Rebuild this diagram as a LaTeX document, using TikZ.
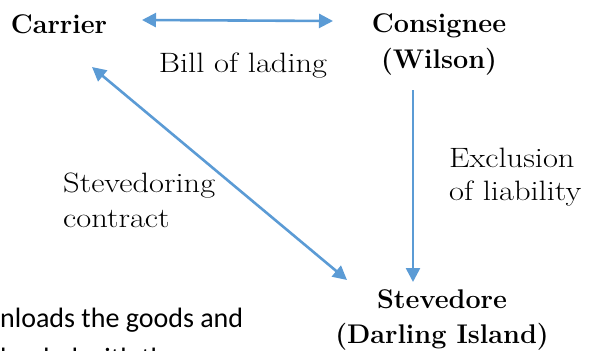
\documentclass[tikz,border=0pt]{standalone}
\usepackage{fontspec}
\newfontfamily\calib{Carlito}
\newfontfamily\lblfont{Latin Modern Roman}[FakeStretch=1.16]
\usetikzlibrary{arrows.meta}
\definecolor{arrblue}{HTML}{5B9BD5}
\tikzset{
  party/.style={font=\bfseries\fontsize{27}{35}\selectfont, align=center, inner sep=0pt},
  lbl/.style={font=\lblfont\fontsize{28}{34}\selectfont, align=left, inner sep=0pt},
  bothway/.style={draw=arrblue, line width=2.6pt,
    {Triangle[length=14pt,width=14pt]}-{Triangle[length=14pt,width=14pt]}},
  oneway/.style={draw=arrblue, line width=2.6pt, -{Triangle[length=14pt,width=14pt]}},
  note/.style={font=\calib\fontsize{28}{40}\selectfont, align=left, inner sep=0pt}
}
\begin{document}
\begin{tikzpicture}[x=1pt,y=-1pt]
\useasboundingbox (0,0) rectangle (595,351);
\node[party, anchor=base] (carrier) at (59,33) {Carrier};
\node[party, font=\bfseries\fontsize{27}{36}\selectfont] (consignee) at (439,44) {Consignee\\(Wilson)};
\node[party] (stevedore) at (442,319.5) {Stevedore\\(Darling Island)};
\node[lbl, anchor=base] (bol) at (243,72) {Bill of lading};
\node[lbl, font=\lblfont\fontsize{28}{33}\selectfont, anchor=west] (excl) at (449,177) {Exclusion\\of liability};
\node[lbl, font=\lblfont\fontsize{28}{35}\selectfont, anchor=west] (sc) at (63,200) {Stevedoring\\contract};
\draw[bothway] ([xshift=83pt,yshift=13pt]carrier.base) -- ([xshift=-106pt,yshift=23pt]consignee.center);
\draw[oneway] ([xshift=-26pt,yshift=-46pt]consignee.center) -- ([xshift=-29pt,yshift=37.5pt]stevedore.center);
\draw[bothway] ([xshift=33pt,yshift=-34pt]carrier.base) -- ([xshift=-95pt,yshift=39.5pt]stevedore.center);
\begin{scope}
\clip (0,0) rectangle (595,351);
\node[note, anchor=west] (txt) at (0,338.3) {nloads the goods and\\loaded with the};
\end{scope}
\end{tikzpicture}
\end{document}
